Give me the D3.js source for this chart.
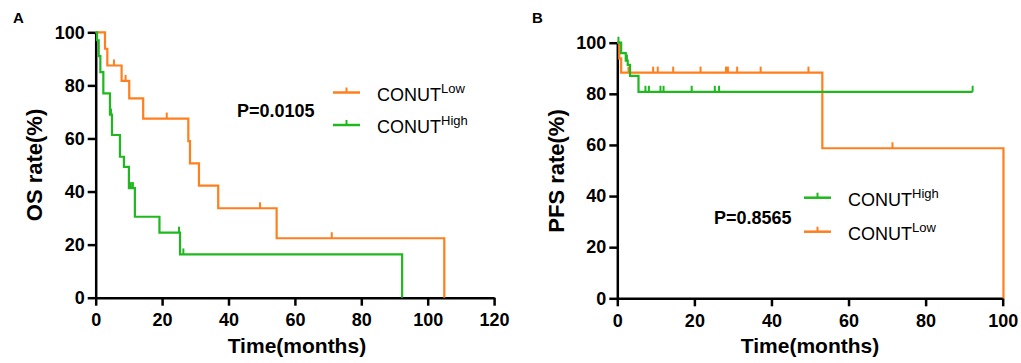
<!DOCTYPE html>
<html>
<head>
<meta charset="utf-8">
<script src="https://cdn.jsdelivr.net/npm/d3@7"></script>
<style>
  body { margin: 0; background: #fff; }
  svg { display: block; }
  text { font-family: Arial, "Liberation Sans", sans-serif; fill: #000; }
</style>
</head>
<body>
<svg id="chart" width="1021" height="363"></svg>
<script>
// ---- Data ----
const xTicksOS = [0, 20, 40, 60, 80, 100, 120];
const xTicksPFS = [0, 20, 40, 60, 80, 100];
const yTicks = [0, 20, 40, 60, 80, 100];

// OS, CONUT Low (orange): step times (months) and survival (%)
const osLowTime = [0, 2.8, 3.5, 7.8, 10.1, 14.3, 27.9, 28.4, 31.1, 36.9, 54.5, 105];
const osLowSurv = [100, 93.8, 87.5, 81.7, 75.1, 67.5, 59.0, 50.6, 42.2, 33.7, 22.4, 0];
const osLowCensTime = [5.5, 9.0, 21.4, 49.5, 71.1];
const osLowCensSurv = [87.5, 81.7, 67.5, 33.7, 22.4];

// OS, CONUT High (green)
const osHighTime = [0, 0.4, 0.9, 1.4, 2.3, 4.3, 4.9, 7.3, 8.5, 10.0, 11.8, 19.2, 25.4, 92.3];
const osHighSurv = [100, 97, 91, 85, 77, 69, 61.3, 53.1, 49.3, 41.3, 30.5, 24.5, 16.3, 0];
const osHighCensTime = [4.6, 10.6, 11.2, 25.1, 26.4];
const osHighCensSurv = [69, 41.3, 41.3, 24.5, 16.3];

// PFS, CONUT Low (orange)
const pfsLowTime = [0, 0.5, 1.0, 53.2, 100.2];
const pfsLowSurv = [100, 93.9, 88.3, 58.7, 0];
const pfsLowCensTime = [2.9, 9.3, 10.5, 14.5, 21.6, 28.2, 28.7, 31.1, 37.2, 49.6, 71.4];
const pfsLowCensSurv = [88.3, 88.3, 88.3, 88.3, 88.3, 88.3, 88.3, 88.3, 88.3, 88.3, 58.7];

// PFS, CONUT High (green)
const pfsHighTime = [0, 1.0, 2.2, 2.7, 3.3, 5.5, 92.2];
const pfsHighSurv = [100, 95.9, 93.0, 91.3, 87.0, 80.8, 80.8];
const pfsHighCensTime = [0.3, 2.5, 7.3, 8.2, 11.2, 12.0, 19.3, 25.3, 26.4, 92.2];
const pfsHighCensSurv = [100, 93.0, 80.8, 80.8, 80.8, 80.8, 80.8, 80.8, 80.8, 80.8];

const orange = "#ff7f1e";
const green = "#1fb81f";

const svg = d3.select("#chart");

function zip(t, s) { return t.map((d, i) => ({ t: d, s: s[i] })); }

function drawPanel(p) {
  const x = d3.scaleLinear().domain(p.xDomain).range(p.xRange);
  const y = d3.scaleLinear().domain([0, 100]).range(p.yRange);
  const g = svg.append("g");

  // Axes
  const xAxis = g.append("g")
    .attr("transform", `translate(0,${p.yRange[0]})`)
    .call(d3.axisBottom(x).tickValues(p.xTicks).tickSize(8).tickSizeOuter(0).tickPadding(8));
  const yAxis = g.append("g")
    .attr("transform", `translate(${p.xRange[0]},0)`)
    .call(d3.axisLeft(y).tickValues(yTicks).tickSize(8).tickSizeOuter(0).tickPadding(3));
  [xAxis, yAxis].forEach(a => {
    a.select(".domain").attr("stroke", "#000").attr("stroke-width", 2.5);
    a.selectAll(".tick line").attr("stroke", "#000").attr("stroke-width", 2.5);
    a.selectAll(".tick text")
      .attr("font-size", "18px")
      .attr("font-weight", "bold")
      .attr("fill", "#000")
      .style("font-family", "Arial, 'Liberation Sans', sans-serif");
  });

  // Curves
  const line = d3.line().x(d => x(d.t)).y(d => y(d.s)).curve(d3.curveStepAfter);
  p.series.forEach(sr => {
    g.append("path")
      .datum(zip(sr.time, sr.surv))
      .attr("fill", "none")
      .attr("stroke", sr.color)
      .attr("stroke-width", 2.2)
      .attr("d", line);
    g.selectAll(null)
      .data(zip(sr.censTime, sr.censSurv))
      .enter().append("line")
      .attr("x1", d => x(d.t)).attr("x2", d => x(d.t))
      .attr("y1", d => y(d.s)).attr("y2", d => y(d.s) - 6)
      .attr("stroke", sr.color)
      .attr("stroke-width", 2);
  });

  // Panel letter
  g.append("text")
    .attr("x", p.letterX).attr("y", 23)
    .attr("font-size", "15px").attr("font-weight", "bold")
    .text(p.letter);

  // Axis titles
  g.append("text")
    .attr("x", (p.xRange[0] + x(p.xDomain[1])) / 2 + p.xTitleShift)
    .attr("y", 353)
    .attr("text-anchor", "middle")
    .attr("font-size", "21px").attr("font-weight", "bold")
    .text("Time(months)");
  g.append("text")
    .attr("transform", `translate(${p.yTitleX},${p.yTitleY})rotate(-90)`)
    .attr("text-anchor", "middle")
    .attr("font-size", "22px").attr("font-weight", "bold")
    .text(p.yTitle);

  // P value
  g.append("text")
    .attr("x", p.pX).attr("y", p.pY)
    .attr("font-size", "18px").attr("font-weight", "bold")
    .text(p.pText);

  // Legend
  p.legend.forEach(l => {
    g.append("line")
      .attr("x1", l.x).attr("x2", l.x + 27)
      .attr("y1", l.y).attr("y2", l.y)
      .attr("stroke", l.color).attr("stroke-width", 2.5);
    g.append("line")
      .attr("x1", l.x + 13.5).attr("x2", l.x + 13.5)
      .attr("y1", l.y).attr("y2", l.y - 5)
      .attr("stroke", l.color).attr("stroke-width", 2);
    const t = g.append("text")
      .attr("x", l.x + 44).attr("y", l.y + 8)
      .attr("font-size", "18px");
    t.append("tspan").text("CONUT");
    t.append("tspan").attr("dy", -8).attr("font-size", "13px").text(l.sup);
  });
}

drawPanel({
  letter: "A", letterX: 13,
  xDomain: [0, 120], xRange: [95.7, 494.1], yRange: [297.7, 32.3],
  xTicks: xTicksOS, xTitleShift: 2,
  yTitle: "OS rate(%)", yTitleX: 42, yTitleY: 165,
  pText: "P=0.0105", pX: 237, pY: 117,
  series: [
    { time: osLowTime, surv: osLowSurv, censTime: osLowCensTime, censSurv: osLowCensSurv, color: orange },
    { time: osHighTime, surv: osHighSurv, censTime: osHighCensTime, censSurv: osHighCensSurv, color: green }
  ],
  legend: [
    { x: 333, y: 92.5, color: orange, sup: "Low" },
    { x: 333, y: 125, color: green, sup: "High" }
  ]
});

drawPanel({
  letter: "B", letterX: 532,
  xDomain: [0, 100], xRange: [617.3, 1002.7], yRange: [298.3, 42.7],
  xTicks: xTicksPFS, xTitleShift: 0,
  yTitle: "PFS rate(%)", yTitleX: 564, yTitleY: 171,
  pText: "P=0.8565", pX: 714, pY: 223.5,
  series: [
    { time: pfsLowTime, surv: pfsLowSurv, censTime: pfsLowCensTime, censSurv: pfsLowCensSurv, color: orange },
    { time: pfsHighTime, surv: pfsHighSurv, censTime: pfsHighCensTime, censSurv: pfsHighCensSurv, color: green }
  ],
  legend: [
    { x: 804, y: 197.7, color: green, sup: "High" },
    { x: 804, y: 231.7, color: orange, sup: "Low" }
  ]
});
</script>
</body>
</html>
